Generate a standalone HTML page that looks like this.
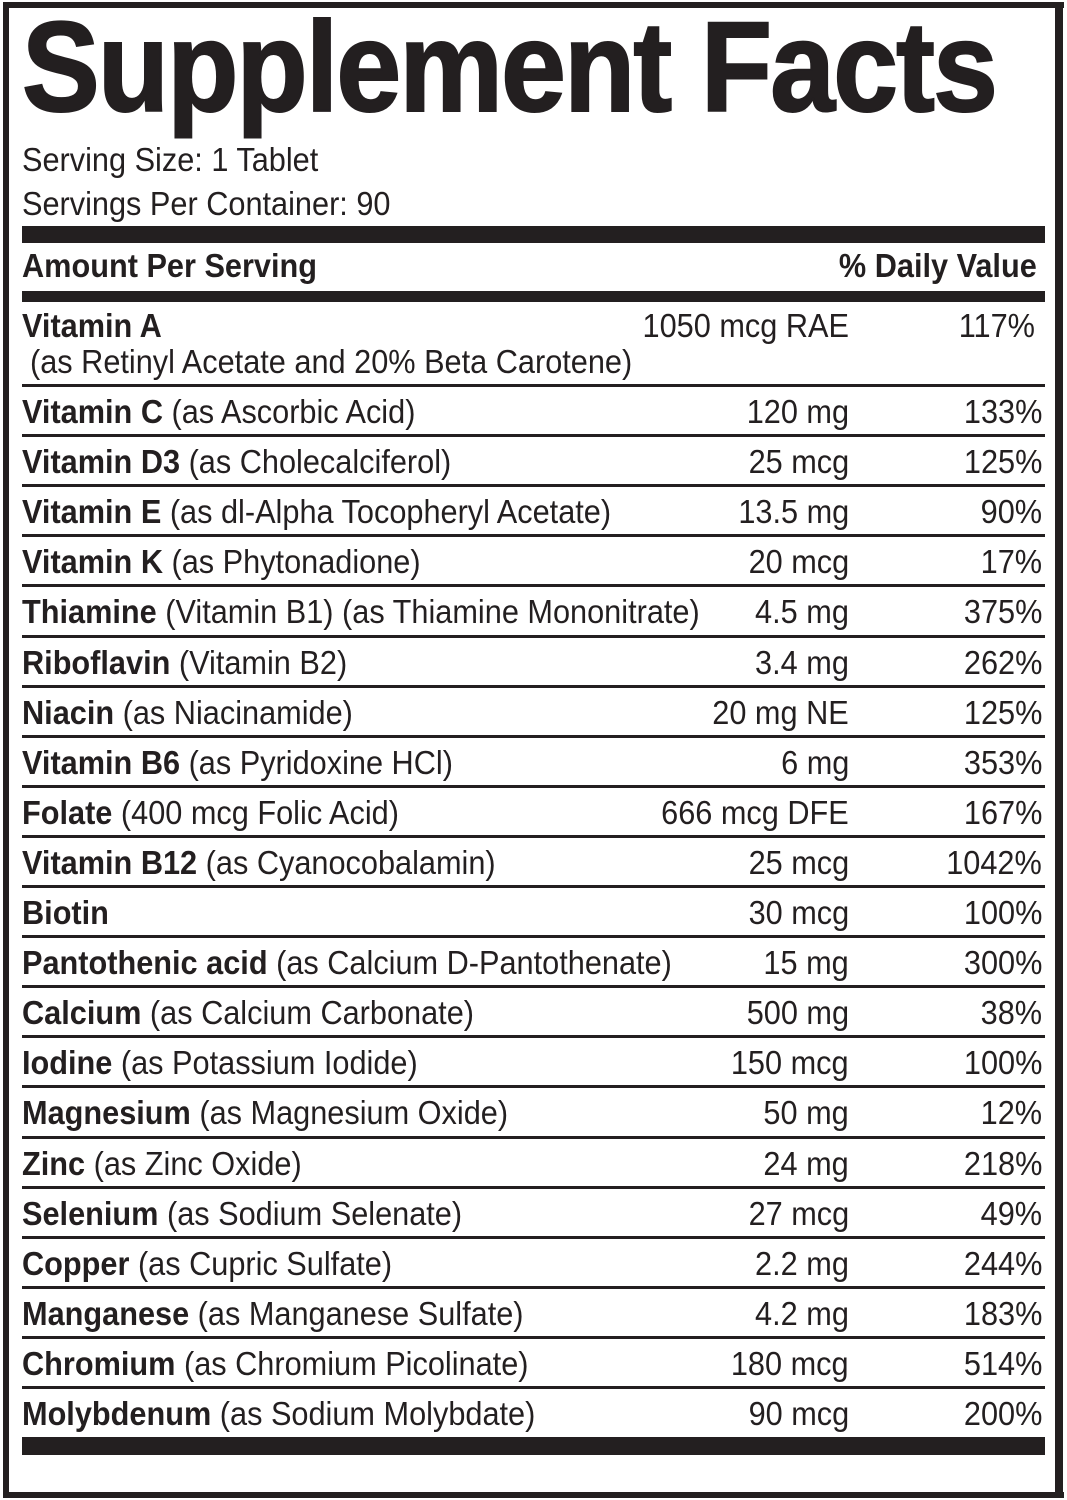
<!DOCTYPE html>
<html><head><meta charset="utf-8"><style>
*{margin:0;padding:0}
body{width:1067px;height:1500px;background:#fff;position:relative;overflow:hidden;font-family:"Liberation Sans",sans-serif;color:#231f20}
.b{position:absolute;background:#231f20}
.t{position:absolute;white-space:nowrap;font-size:33px;line-height:40px;height:40px}
.l{left:22px;transform:scaleX(0.93);transform-origin:left center}
.r{transform:scaleX(0.93);transform-origin:right center;text-align:right}
.a{right:218px}
.d{right:25px}
b{font-weight:bold}
</style></head><body>
<div class="b" style="left:3px;top:2px;width:1061px;height:6px"></div>
<div class="b" style="left:3px;top:1492px;width:1061px;height:6px"></div>
<div class="b" style="left:3px;top:2px;width:6px;height:1496px"></div>
<div class="b" style="left:1055px;top:2px;width:8px;height:1496px"></div>
<div class="t l" style="top:8px;font-size:128px;line-height:120px;height:120px;font-weight:bold;transform:scaleX(0.91);letter-spacing:-2px;-webkit-text-stroke:2px #231f20">Supplement Facts</div>
<div class="t l" style="top:140px">Serving Size: 1 Tablet</div>
<div class="t l" style="top:184px">Servings Per Container: 90</div>
<div class="b" style="left:22px;top:226px;width:1023px;height:17px"></div>
<div class="t l" style="top:246px"><b>Amount Per Serving</b></div>
<div class="t r d" style="top:246px;right:30px"><b>% Daily Value</b></div>
<div class="b" style="left:22px;top:291px;width:1023px;height:11px"></div>
<div class="t l" style="top:306px"><b>Vitamin A</b></div>
<div class="t r a" style="top:306px">1050 mcg RAE</div>
<div class="t r" style="top:306px;right:32px">117%</div>
<div class="t l" style="top:342px;left:30px">(as Retinyl Acetate and 20% Beta Carotene)</div>
<div id="rows"></div>
<div class="b" style="left:22px;top:1437px;width:1023px;height:18px"></div>
<script>
var R=[["Vitamin C","(as Ascorbic Acid)","120 mg","133%"],["Vitamin D3","(as Cholecalciferol)","25 mcg","125%"],["Vitamin E","(as dl-Alpha Tocopheryl Acetate)","13.5 mg","90%"],["Vitamin K","(as Phytonadione)","20 mcg","17%"],["Thiamine","(Vitamin B1) (as Thiamine Mononitrate)","4.5 mg","375%"],["Riboflavin","(Vitamin B2)","3.4 mg","262%"],["Niacin","(as Niacinamide)","20 mg NE","125%"],["Vitamin B6","(as Pyridoxine HCl)","6 mg","353%"],["Folate","(400 mcg Folic Acid)","666 mcg DFE","167%"],["Vitamin B12","(as Cyanocobalamin)","25 mcg","1042%"],["Biotin","","30 mcg","100%"],["Pantothenic acid","(as Calcium D-Pantothenate)","15 mg","300%"],["Calcium","(as Calcium Carbonate)","500 mg","38%"],["Iodine","(as Potassium Iodide)","150 mcg","100%"],["Magnesium","(as Magnesium Oxide)","50 mg","12%"],["Zinc","(as Zinc Oxide)","24 mg","218%"],["Selenium","(as Sodium Selenate)","27 mcg","49%"],["Copper","(as Cupric Sulfate)","2.2 mg","244%"],["Manganese","(as Manganese Sulfate)","4.2 mg","183%"],["Chromium","(as Chromium Picolinate)","180 mcg","514%"],["Molybdenum","(as Sodium Molybdate)","90 mcg","200%"]];
var h="";
for(var k=0;k<=20;k++){h+='<div class="b" style="left:22px;top:'+(384+50.1*k).toFixed(1)+'px;width:1023px;height:3px"></div>';}
R.forEach(function(r,i){var c=412+50.1*i-20;
h+='<div class="t l" style="top:'+c.toFixed(1)+'px"><b>'+r[0]+'</b> '+r[1]+'</div>';
h+='<div class="t r a" style="top:'+c.toFixed(1)+'px">'+r[2]+'</div>';
h+='<div class="t r d" style="top:'+c.toFixed(1)+'px">'+r[3]+'</div>';});
document.getElementById("rows").innerHTML=h;
</script>
</body></html>
